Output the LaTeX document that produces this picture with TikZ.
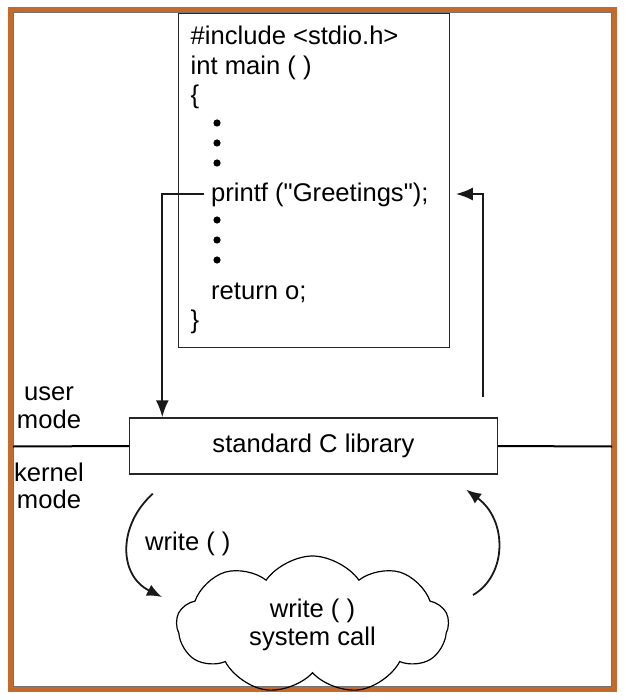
\documentclass[tikz,border=0pt]{standalone}
\usepackage{fontspec}
\setmainfont{Liberation Sans}
\newfontfamily\plainsans{Liberation Sans}
\usetikzlibrary{arrows.meta,shapes.symbols}
\definecolor{framebrown}{RGB}{196,106,44}
\begin{document}
\begin{tikzpicture}[x=1pt,y=1pt,
    box/.style={draw=black!85,line width=1.4pt},
    conn/.style={draw=black!90,line width=2pt,-{Latex[length=17pt,width=13pt]}},
    curve/.style={draw=black!90,line width=1.8pt,-{Latex[length=15pt,width=12pt]}},
    code/.style={anchor=base west}]
    \tikzstyle{every node}+=[inner sep=0pt,font=\plainsans\fontsize{25.6}{28}\selectfont]
    \useasboundingbox (0,0) rectangle (630,-700);
    \fill [white] (0,0) rectangle (630,-700);
    \draw [framebrown,line width=5pt] (10.5,-9.5) rectangle (614.5,-689);
    \draw [black!55,line width=1pt] (13.5,-12.5) rectangle (611.5,-686);
    \node [box,anchor=north west,minimum width=271pt,minimum height=334pt] (prog) at (177.5,-13) {};
    \node [code] (inc) at (190.5,-45) {\#include <stdio.h>};
    \node [code] (main) at (190.5,-75) {int main ( )};
    \node [code] (open) at (190.5,-104) {\{};
    \foreach \y in {123,143,163,220,240,260}
        \fill [black] (217,-\y) circle (3.6);
    \node [code] (printf) at (211,-202) {printf ("Greetings");};
    \node [code] (ret) at (211,-299) {return o;};
    \node [code] (close) at (190.5,-328) {\}};
    \node [box,minimum width=368pt,minimum height=56pt] (lib) at (313.5,-446) {standard C library};
    \coordinate (lineL) at (13,-446.5);
    \coordinate (lineR) at (612,-446.5);
    \draw [black,line width=2pt] (lineL) -- (lib.west) (lib.east) -- (lineR);
    \node [anchor=base] (user) at (49,-400) {user};
    \node [anchor=base] (usermode) at (49,-428) {mode};
    \node [anchor=base] (kernel) at (49,-481) {kernel};
    \node [anchor=base] (kernelmode) at (49,-508) {mode};
    \coordinate (pline) at ([yshift=8pt]printf.base west);
    \draw [conn] ([xshift=-7pt]pline) -| ([xshift=33.5pt]lib.north west);
    \draw [conn] ([shift={(-15pt,20pt)}]lib.north east) |- ([xshift=6pt]prog.east |- pline);
    \node [cloud,draw,line width=1.2pt,cloud puffs=9,cloud puff arc=110,cloud ignores aspect,
        minimum width=272pt,minimum height=138pt,align=center] (sys) at (312.5,-625) {write ( )\\system call};
    \coordinate (callout) at ([shift={(24pt,-19pt)}]lib.south west);
    \coordinate (callin) at ([shift={(-150.5pt,28pt)}]sys.center);
    \coordinate (backout) at ([shift={(160.5pt,30pt)}]sys.center);
    \coordinate (backin) at ([shift={(-32pt,-15pt)}]lib.south east);
    \draw [curve] (callout) .. controls (118,-525) and (118,-575) .. (callin);
    \draw [curve] (backout) .. controls (507.5,-575) and (507.5,-520) .. (backin);
    \node [anchor=base west] (wcall) at (145,-550) {write ( )};
\end{tikzpicture}
\end{document}
